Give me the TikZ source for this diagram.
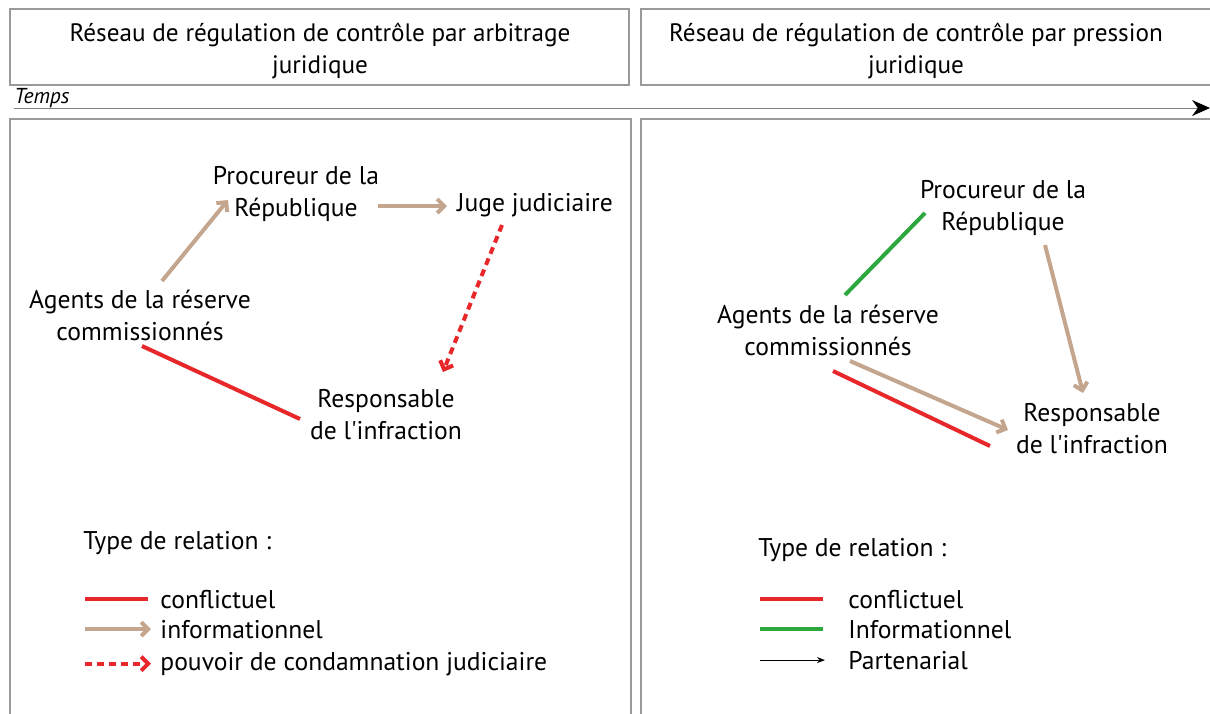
\documentclass[tikz,border=0pt]{standalone}
\usepackage{fontspec}
\setmainfont{PT Sans}
\usepackage{tikz}
\usetikzlibrary{arrows.meta,calc}
\definecolor{rConfl}{HTML}{E8272B}
\definecolor{rInfo}{HTML}{C4A58D}
\definecolor{rVert}{HTML}{2DA83F}
\definecolor{rCadre}{HTML}{9A9A9A}

\tikzset{
  cadre/.style={draw=rCadre, line width=0.6pt},
  titre/.style={align=center, font=\fontsize{12.6}{16}\selectfont},
  acteur/.style={align=center, font=\fontsize{12.8}{16}\selectfont, inner sep=2pt},
  legende/.style={anchor=base west, font=\fontsize{12.8}{16}\selectfont, inner sep=0pt},
  confl/.style={draw=rConfl, line width=2pt},
  vert/.style={draw=rVert, line width=2pt},
  info/.style={draw=rInfo, line width=2pt, -{Straight Barb[length=3.5pt,width=7pt]}},
  pouvoir/.style={draw=rConfl, line width=2pt, dash pattern=on 3.5pt off 2.5pt,
    -{Straight Barb[length=3.5pt,width=7pt]}},
  parten/.style={draw=black, line width=0.6pt, -{Stealth[length=4pt,width=3pt]}}
}

\begin{document}
\begin{tikzpicture}[x=0.5pt, y=-0.5pt]
  \useasboundingbox (0,0) rectangle (1210,713);

  % en-tetes
  \draw[cadre] (10,9) rectangle (629,85);
  \draw[cadre] (641,9) rectangle (1214,85);
  \node[titre] (tiL) at (320,51) {Réseau de régulation de contrôle par arbitrage\\juridique};
  \node[titre] (tiR) at (916,51) {Réseau de régulation de contrôle par pression\\juridique};

  % axe du temps
  \node[anchor=base west, inner sep=0pt, font=\itshape\fontsize{10.8}{12}\selectfont] (temps) at (14,103) {Temps};
  \coordinate (t0) at (14,108);
  \coordinate (t1) at (1210,108);
  \draw[draw=gray, line width=0.5pt, -{Stealth[length=9pt,width=8pt,color=black]}] (t0) -- (t1);

  % cadres
  \draw[cadre] (10,119) rectangle (631,720);
  \draw[cadre] (641,119) rectangle (1214,720);

  % arbitrage juridique
  \node[acteur] (prL) at (296,194) {Procureur de la\\République};
  \node[acteur] (juL) at (535,205) {Juge judiciaire};
  \node[acteur] (agL) at (140,315) {Agents de la réserve\\commissionnés};
  \node[acteur] (reL) at (386,415) {Responsable\\de l\textquotesingle infraction};

  \draw[info] ($(agL)+(22,-34)$) -- ($(prL)+(-68,6)$);
  \draw[info] ($(prL)+(82,12)$) -- ($(juL)+(-88,1)$);
  \draw[pouvoir] ($(juL)+(-33,20)$) -- ($(reL)+(57,-43)$);
  \draw[confl] ($(agL)+(2,31)$) -- ($(reL)+(-86,4)$);

  % pression juridique
  \node[acteur] (prR) at (1003,208) {Procureur de la\\République};
  \node[acteur] (agR) at (828,330) {Agents de la réserve\\commissionnés};
  \node[acteur] (reR) at (1092,429) {Responsable\\de l\textquotesingle infraction};

  \draw[vert] ($(agR)+(17,-35)$) -- ($(prR)+(-78,5)$);
  \draw[info] ($(prR)+(42,37)$) -- ($(reR)+(-9,-36)$);
  \draw[info] ($(agR)+(22,31)$) -- ($(reR)+(-84,1)$);
  \draw[confl] ($(agR)+(5,41)$) -- ($(reR)+(-102,17)$);

  % legende gauche
  \node[legende] (tyL) at (83,549) {Type de relation :};
  \node[legende] (lgL1) at (160,608) {conflictuel};
  \node[legende] (lgL2) at (160,638) {informationnel};
  \node[legende] (lgL3) at (160,670) {pouvoir de condamnation judiciaire};
  \draw[confl] ($(lgL1.west)+(-75,0)$) -- ($(lgL1.west)+(-12,0)$);
  \draw[info] ($(lgL2.west)+(-75,0)$) -- ($(lgL2.west)+(-9,0)$);
  \draw[pouvoir] ($(lgL3.west)+(-75,0)$) -- ($(lgL3.west)+(-9,0)$);

  % legende droite
  \node[legende] (tyR) at (758,556) {Type de relation :};
  \node[legende] (lgR1) at (848,608) {conflictuel};
  \node[legende] (lgR2) at (848,638) {Informationnel};
  \node[legende] (lgR3) at (848,669) {Partenarial};
  \draw[confl] ($(lgR1.west)+(-88,0)$) -- ($(lgR1.west)+(-25,0)$);
  \draw[vert] ($(lgR2.west)+(-88,0)$) -- ($(lgR2.west)+(-25,0)$);
  \draw[parten] ($(lgR3.west)+(-88,0)$) -- ($(lgR3.west)+(-23,0)$);
\end{tikzpicture}
\end{document}
